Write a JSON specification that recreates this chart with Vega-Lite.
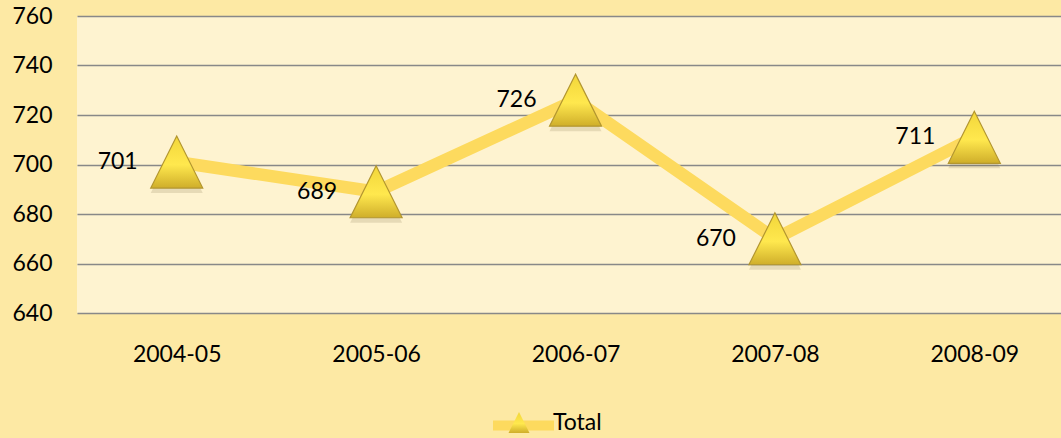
{
  "$schema": "https://vega.github.io/schema/vega-lite/v6.json",
  "autosize": {"type": "none"},
  "width": 984,
  "height": 297,
  "padding": {"left": 77, "top": 16, "right": 0, "bottom": 125},
  "background": "#FDE9A4",
  "config": {
    "view": {"fill": "#FEF3D0", "stroke": null},
    "font": "Lato",
    "axis": {"labelFont": "Lato", "labelFontSize": 23, "labelColor": "#000000"}
  },
  "data": {
    "values": [
      {"year": "2004-05", "value": 701, "series": "Total"},
      {"year": "2005-06", "value": 689, "series": "Total"},
      {"year": "2006-07", "value": 726, "series": "Total"},
      {"year": "2007-08", "value": 670, "series": "Total"},
      {"year": "2008-09", "value": 711, "series": "Total"}
    ]
  },
  "encoding": {
    "x": {
      "field": "year", "type": "ordinal", "sort": null,
      "scale": {"type": "point", "padding": 0.4674, "align": 0.535},
      "axis": {"title": null, "labelAngle": 0, "ticks": false, "domain": false, "labelPadding": 30, "grid": false}
    },
    "y": {
      "field": "value", "type": "quantitative",
      "scale": {"domain": [640, 760], "nice": false, "zero": false},
      "axis": {"title": null, "values": [640, 660, 680, 700, 720, 740, 760], "ticks": false, "domain": false, "labelPadding": 25, "grid": true, "gridColor": "#888888", "gridWidth": 1.6, "gridOpacity": 1}
    }
  },
  "layer": [
    {
      "mark": {"type": "line", "strokeWidth": 12.5, "strokeCap": "butt", "strokeJoin": "miter"},
      "encoding": {
        "color": {
          "field": "series", "type": "nominal",
          "scale": {"range": ["#FDDA5E"]},
          "legend": {
            "orient": "none", "legendX": 411, "legendY": 374, "title": null,
            "symbolType": "stroke", "symbolSize": 3721, "symbolStrokeWidth": 10,
            "labelExpr": "''", "labelFontSize": 23, "padding": 0
          }
        }
      }
    },
    {
      "mark": {"type": "point", "yOffset": 5, "filled": true, "size": 2704, "color": "#7A6A40", "opacity": 0.18, "shape": "M0,-1L-1,1L1,1Z"},
      "encoding": {}
    },
    {
      "mark": {
        "type": "point", "filled": true, "size": 2704, "strokeWidth": 1.2, "stroke": "#B39630", "opacity": 1,
        "fill": {
          "gradient": "linear", "x1": 0, "y1": 0, "x2": 0, "y2": 1,
          "stops": [
            {"offset": 0, "color": "#F2D63A"},
            {"offset": 0.55, "color": "#FFE84E"},
            {"offset": 1, "color": "#CFAE2A"}
          ]
        }
      },
      "encoding": {
        "shape": {
          "field": "series", "type": "nominal",
          "scale": {"range": ["M0,-1L-1,1L1,1Z"]},
          "legend": {
            "orient": "none", "legendX": 430.5, "legendY": 395, "title": null,
            "symbolSize": 441, "symbolFillColor": "#E9CB3A", "symbolStrokeColor": "#B39630", "symbolStrokeWidth": 1,
            "labelFont": "Lato", "labelFontSize": 23, "labelColor": "#000000", "labelOffset": 22.5, "padding": 0
          }
        }
      }
    },
    {
      "mark": {"type": "text", "align": "right", "baseline": "middle", "dx": -39, "fontSize": 23, "font": "Lato", "color": "#000000"},
      "encoding": {"text": {"field": "value", "type": "quantitative"}}
    }
  ]
}
